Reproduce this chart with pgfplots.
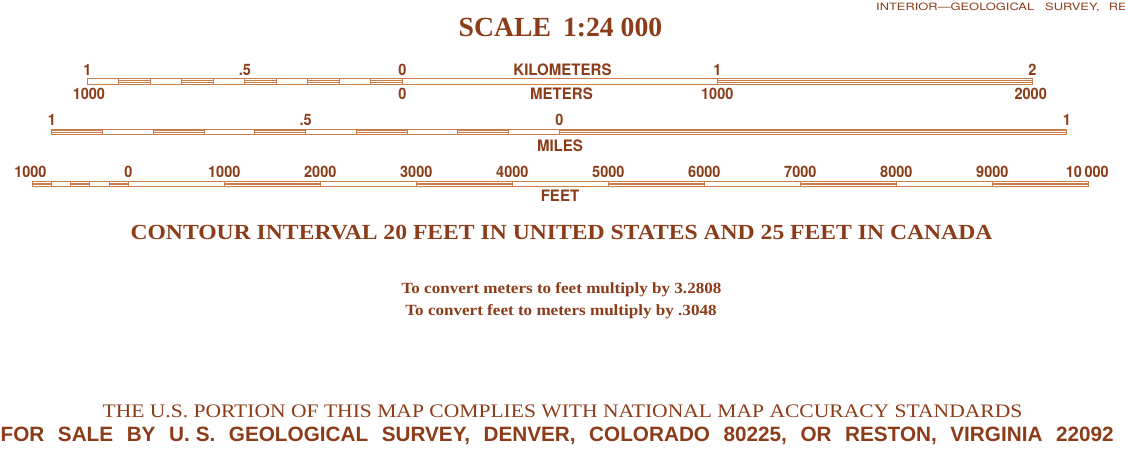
\documentclass[border=0pt]{standalone}
\usepackage{pgfplots}
\pgfplotsset{compat=1.18}
\usepackage{fontspec}
\setmainfont{Liberation Serif}
\newfontfamily\contf{Liberation Serif}[FakeStretch=1.098]
\newfontfamily\thef{Liberation Serif}[FakeStretch=1.127]
\newfontfamily\salef{Liberation Sans}[WordSpace=2.35]
\newfontfamily\labf{TeX Gyre Heros}[FakeStretch=0.955]
\newfontfamily\digf{TeX Gyre Heros}[FakeStretch=0.92]
\newfontfamily\intf{TeX Gyre Heros}[FakeStretch=1.28]
\definecolor{txt}{RGB}{140,60,25}
\definecolor{barc}{RGB}{200,125,75}
\pgfplotsset{
  base/.style={width=1125bp,height=464bp,scale only axis,hide axis,
    ymin=0,ymax=464,y dir=reverse,clip=false,at={(0,0)},anchor=south west},
  outl/.style={draw=barc,line width=0.9bp,mark=none,forget plot},
  strp/.style={draw=barc,line width=0.75bp,mark=none,unbounded coords=jump,forget plot},
  divs/.style={color=barc,only marks,mark=|,mark size=2.75,
    mark options={line width=0.85bp,draw=barc},forget plot},
}
\tikzset{
  dig/.style={anchor=base,inner sep=0pt,text=txt,font=\digf\fontsize{15.8}{16}\selectfont\bfseries},
  wrd/.style={anchor=base,inner sep=0pt,text=txt,font=\labf\fontsize{15.8}{16}\selectfont\bfseries},
}
\begin{document}
\begin{tikzpicture}
\useasboundingbox (0,0) rectangle (1125bp,464bp);
\clip (0,0) rectangle (1125bp,464bp);
\fill[white] (0,0) rectangle (1125bp,464bp);

% ---------- text (pixel coordinates) ----------
\begin{axis}[base,xmin=0,xmax=1125]
\node[anchor=base,inner sep=0pt,text=txt,font=\fontsize{27.8}{28}\selectfont\bfseries]
  at (axis cs:560.5,36.5) {SCALE\hspace{12bp}1:24 000};
\node[anchor=base west,inner sep=0pt,text=txt,font=\intf\fontsize{10.1}{11}\selectfont]
  at (axis cs:876,11) {INTERIOR—GEOLOGICAL\hspace{11bp}SURVEY,\hspace{9bp}RE};
\node[wrd] at (axis cs:562.5,75.5) {KILOMETERS};
\node[wrd] at (axis cs:561.5,99.3) {METERS};
\node[wrd] at (axis cs:560,151.5) {MILES};
\node[wrd] at (axis cs:560,201) {FEET};
\node[anchor=base,inner sep=0pt,text=txt,font=\contf\fontsize{21.6}{22}\selectfont\bfseries]
  at (axis cs:561.5,239.3) {CONTOUR INTERVAL 20 FEET IN UNITED STATES AND 25 FEET IN CANADA};
\node[anchor=base,inner sep=0pt,text=txt,font=\contf\fontsize{15.6}{16}\selectfont\bfseries]
  at (axis cs:561.5,293) {To convert meters to feet multiply by 3.2808};
\node[anchor=base,inner sep=0pt,text=txt,font=\contf\fontsize{15.6}{16}\selectfont\bfseries]
  at (axis cs:561,315.5) {To convert feet to meters multiply by .3048};
\node[anchor=base,inner sep=0pt,text=txt,font=\thef\fontsize{19.2}{20}\selectfont]
  at (axis cs:562.5,417.7) {THE U.S. PORTION OF THIS MAP COMPLIES WITH NATIONAL MAP ACCURACY STANDARDS};
\node[anchor=base west,inner sep=0pt,text=txt,font=\salef\fontsize{20.8}{21}\selectfont\bfseries]
  at (axis cs:0.5,441.7) {FOR SALE BY U.\hspace{6bp}S. GEOLOGICAL SURVEY, DENVER, COLORADO 80225, OR RESTON, VIRGINIA 22092};
\end{axis}

% ---------- kilometre / metre bar (x in km) ----------
\begin{axis}[base,xmin=-1.27714,xmax=2.29429]
\addplot[outl] coordinates {(-1,78.5) (2,78.5) (2,84) (-1,84) (-1,78.5)};
\addplot[divs] coordinates {(-0.9,81.25) (-0.8,81.25) (-0.7,81.25) (-0.6,81.25) (-0.5,81.25)
  (-0.4,81.25) (-0.3,81.25) (-0.2,81.25) (-0.1,81.25) (0,81.25) (1,81.25)};
\addplot[strp] coordinates {(-0.9,80.35) (-0.8,80.35) (0,nan) (-0.7,80.35) (-0.6,80.35) (0,nan)
  (-0.5,80.35) (-0.4,80.35) (0,nan) (-0.3,80.35) (-0.2,80.35) (0,nan) (-0.1,80.35) (0,80.35) (0,nan)
  (1,80.35) (2,80.35)};
\addplot[strp] coordinates {(-0.9,82.15) (-0.8,82.15) (0,nan) (-0.7,82.15) (-0.6,82.15) (0,nan)
  (-0.5,82.15) (-0.4,82.15) (0,nan) (-0.3,82.15) (-0.2,82.15) (0,nan) (-0.1,82.15) (0,82.15) (0,nan)
  (1,82.15) (2,82.15)};
\node[dig] at (axis cs:-1,75.5) {1};
\node[dig] at (axis cs:-0.5,75.5) {.5};
\node[dig] at (axis cs:0,75.5) {0};
\node[dig] at (axis cs:1,75.5) {1};
\node[dig] at (axis cs:2,75.5) {2};
\node[dig] at (axis cs:-0.995,99.3) {1000};
\node[dig] at (axis cs:0,99.3) {0};
\node[dig] at (axis cs:1,99.3) {1000};
\node[dig] at (axis cs:1.995,99.3) {2000};
\end{axis}

% ---------- mile bar (x in miles) ----------
\begin{axis}[base,xmin=-1.10207,xmax=1.11468]
\addplot[outl] coordinates {(-1,129) (1,129) (1,134.5) (-1,134.5) (-1,129)};
\addplot[divs] coordinates {(-0.9,131.75) (-0.8,131.75) (-0.7,131.75) (-0.6,131.75) (-0.5,131.75)
  (-0.4,131.75) (-0.3,131.75) (-0.2,131.75) (-0.1,131.75) (0,131.75)};
\addplot[strp] coordinates {(-1,130.85) (-0.9,130.85) (0,nan) (-0.8,130.85) (-0.7,130.85) (0,nan)
  (-0.6,130.85) (-0.5,130.85) (0,nan) (-0.4,130.85) (-0.3,130.85) (0,nan) (-0.2,130.85) (-0.1,130.85) (0,nan)
  (0,130.85) (1,130.85)};
\addplot[strp] coordinates {(-1,132.65) (-0.9,132.65) (0,nan) (-0.8,132.65) (-0.7,132.65) (0,nan)
  (-0.6,132.65) (-0.5,132.65) (0,nan) (-0.4,132.65) (-0.3,132.65) (0,nan) (-0.2,132.65) (-0.1,132.65) (0,nan)
  (0,132.65) (1,132.65)};
\node[dig] at (axis cs:-1,125.5) {1};
\node[dig] at (axis cs:-0.5,125.5) {.5};
\node[dig] at (axis cs:0,125.5) {0};
\node[dig] at (axis cs:1,125.5) {1};
\end{axis}

% ---------- feet bar (x in feet) ----------
\begin{axis}[base,xmin=-1336.46,xmax=10382.3]
\addplot[outl] coordinates {(-1000,181) (10000,181) (10000,186.7) (-1000,186.7) (-1000,181)};
\addplot[divs] coordinates {(-800,183.85) (-600,183.85) (-400,183.85) (-200,183.85) (0,183.85)
  (1000,183.85) (2000,183.85) (3000,183.85) (4000,183.85) (5000,183.85) (6000,183.85)
  (7000,183.85) (8000,183.85) (9000,183.85)};
\addplot[strp] coordinates {(-1000,182.9) (-800,182.9) (0,nan) (-600,182.9) (-400,182.9) (0,nan)
  (-200,182.9) (0,182.9) (0,nan) (1000,182.9) (2000,182.9) (0,nan) (3000,182.9) (4000,182.9) (0,nan)
  (5000,182.9) (6000,182.9) (0,nan) (7000,182.9) (8000,182.9) (0,nan) (9000,182.9) (10000,182.9)};
\addplot[strp] coordinates {(-1000,184.8) (-800,184.8) (0,nan) (-600,184.8) (-400,184.8) (0,nan)
  (-200,184.8) (0,184.8) (0,nan) (1000,184.8) (2000,184.8) (0,nan) (3000,184.8) (4000,184.8) (0,nan)
  (5000,184.8) (6000,184.8) (0,nan) (7000,184.8) (8000,184.8) (0,nan) (9000,184.8) (10000,184.8)};
\node[dig] at (axis cs:-1020,177.3) {1000};
\node[dig] at (axis cs:0,177.3) {0};
\node[dig] at (axis cs:1000,177.3) {1000};
\node[dig] at (axis cs:2000,177.3) {2000};
\node[dig] at (axis cs:3000,177.3) {3000};
\node[dig] at (axis cs:4000,177.3) {4000};
\node[dig] at (axis cs:5000,177.3) {5000};
\node[dig] at (axis cs:6000,177.3) {6000};
\node[dig] at (axis cs:7000,177.3) {7000};
\node[dig] at (axis cs:8000,177.3) {8000};
\node[dig] at (axis cs:9000,177.3) {9000};
\node[dig] at (axis cs:9990,177.3) {10\,000};
\end{axis}
\end{tikzpicture}
\end{document}
